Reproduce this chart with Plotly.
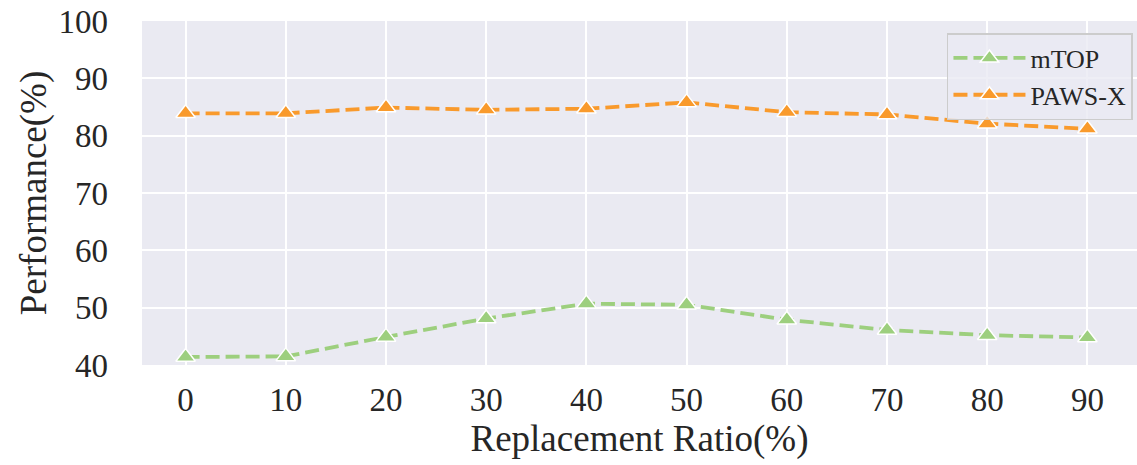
import plotly.graph_objects as go

ratios = [0, 10, 20, 30, 40, 50, 60, 70, 80, 90]
mtop = [41.4, 41.5, 44.9, 48.1, 50.7, 50.5, 47.9, 46.1, 45.2, 44.8]
paws_x = [83.9, 83.9, 84.9, 84.5, 84.7, 85.8, 84.1, 83.7, 82.1, 81.2]
y_ticks = [40, 50, 60, 70, 80, 90, 100]

series = [("mTOP", mtop, "#9DCF7E"), ("PAWS-X", paws_x, "#F99A2C")]

fig = go.Figure()
for name, vals, color in series:
    fig.add_trace(go.Scatter(
        x=ratios, y=vals, name=name, mode="lines+markers",
        line=dict(color=color, width=3.8, dash="14px,6px"),
        marker=dict(symbol="triangle-up", size=17, color=color,
                    line=dict(color="white", width=1.5)),
    ))

font_family = "Liberation Serif, Times New Roman, serif"
fig.update_layout(
    width=1137, height=465,
    margin=dict(l=142, r=0, t=21, b=100, autoexpand=False),
    paper_bgcolor="white", plot_bgcolor="#EAEAF2",
    font=dict(family=font_family, color="#262626"),
    showlegend=True,
    legend=dict(
        x=0.809, y=0.965, xanchor="left", yanchor="top",
        bgcolor="rgba(234,234,242,0.8)", bordercolor="#CCCCCC", borderwidth=1.5,
        font=dict(size=26, family=font_family, color="#262626"),
        itemwidth=72, tracegroupgap=0,
    ),
    xaxis=dict(
        range=[-4.35, 94.95], tickvals=ratios, ticktext=[str(r) for r in ratios],
        showgrid=True, gridcolor="white", gridwidth=2, zeroline=False,
        showline=False, ticks="", tickfont=dict(size=33), automargin=False,
        ticklabelstandoff=12,
        title=dict(text="Replacement Ratio(%)", font=dict(size=37), standoff=6),
    ),
    yaxis=dict(
        range=[40, 100], tickvals=y_ticks, ticktext=[str(v) for v in y_ticks],
        showgrid=True, gridcolor="white", gridwidth=2, zeroline=False,
        showline=False, ticks="", tickfont=dict(size=33), ticklabelstandoff=33,
        automargin=False,
        title=dict(text="Performance(%)", font=dict(size=37), standoff=0),
    ),
)

fig.write_html(
    "out.html",
    config={"displayModeBar": False},
    post_script="document.body.style.margin='0';document.body.style.padding='0';",
)
